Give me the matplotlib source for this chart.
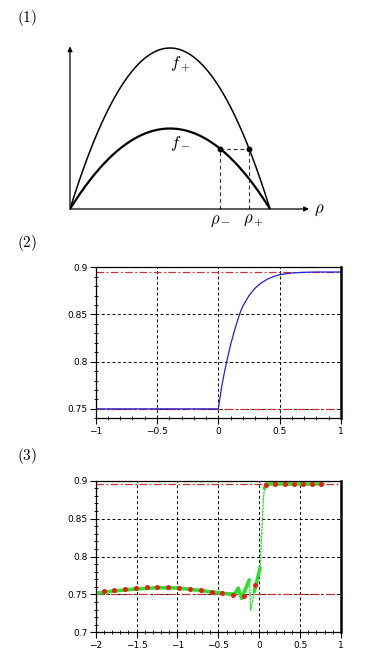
import numpy as np
import matplotlib
matplotlib.use("Agg")
import matplotlib.pyplot as plt
from matplotlib.collections import LineCollection
from matplotlib.ticker import MultipleLocator

plt.rcParams['mathtext.fontset'] = 'cm'
plt.rcParams['font.family'] = 'DejaVu Sans'

# ---- panel (1): flux functions sketch ----
rho_max = 1.0
fplus_peak = 1.0
fminus_peak = 0.5
rho_minus = 0.75

# ---- panel (2): exact solution ----
exact_x = [-1.0, 0.0, 0.025, 0.05, 0.075, 0.1, 0.125, 0.15, 0.175, 0.2, 0.25,
           0.3, 0.35, 0.4, 0.45, 0.5, 0.6, 0.7, 0.8, 1.0]
exact_y = [0.75, 0.75, 0.772, 0.789, 0.804, 0.818, 0.830, 0.841, 0.851, 0.859,
           0.870, 0.878, 0.8835, 0.8875, 0.8902, 0.8922, 0.8940, 0.8947, 0.8950, 0.8950]
state_low = 0.75
state_high = 0.895

# ---- panel (3): numerical solution ----
green_x = [-2.0, -1.9, -1.75, -1.5, -1.25, -1.0, -0.8, -0.6, -0.45, -0.36, -0.3,
           -0.256, -0.215, -0.121, -0.104, -0.06, 0.01, 0.03, 0.05, 0.065, 0.08,
           0.3, 0.55, 0.78]
green_y = [0.7515, 0.7528, 0.7548, 0.7572, 0.7588, 0.7584, 0.7562, 0.7535,
           0.7515, 0.7505, 0.7505, 0.758, 0.745, 0.769, 0.729, 0.7536, 0.785,
           0.83, 0.875, 0.89, 0.895, 0.895, 0.895, 0.895]
dots_x = [-1.902, -1.772, -1.641, -1.511, -1.376, -1.246, -1.111, -0.977, -0.846,
          -0.712, -0.582, -0.451, -0.317, -0.190, -0.052, 0.087, 0.197, 0.311,
          0.421, 0.531, 0.641, 0.755]
dots_y = [0.7540, 0.7558, 0.7571, 0.7585, 0.7593, 0.7598, 0.7598, 0.7585, 0.7567,
          0.7554, 0.7536, 0.7514, 0.7488, 0.7485, 0.7620, 0.8947, 0.8952, 0.8952,
          0.8952, 0.8952, 0.8952, 0.8952]

W, H = 375, 665
fig = plt.figure(figsize=(W / 100, H / 100), dpi=100)


def px_axes(left, top, right, bottom):
    return fig.add_axes([left / W, 1 - bottom / H, (right - left) / W, (bottom - top) / H])


def panel_label(txt, y):
    fig.text(17 / W, 1 - y / H, r'$\mathrm{(%s)}$' % txt, fontsize=11, va='center', ha='left')


# ---------------- panel 1 ----------------
ax1 = px_axes(70, 30, 330, 230)
ax1.set_xlim(0, 1.3)
ax1.set_ylim(-21 / 161, 179 / 161)
ax1.axis('off')

rho = np.linspace(0, rho_max, 300)
f_plus = 4 * fplus_peak * rho * (1 - rho / rho_max) / rho_max
f_minus = 4 * fminus_peak * rho * (1 - rho / rho_max) / rho_max
ax1.plot(rho, f_plus, color='k', lw=1.1, solid_capstyle='butt')
ax1.plot(rho, f_minus, color='k', lw=1.6, solid_capstyle='butt')

flux_star = 4 * fminus_peak * rho_minus * (1 - rho_minus / rho_max) / rho_max
q = flux_star / (4 * fplus_peak)
rho_plus = rho_max * (1 + np.sqrt(1 - 4 * q)) / 2

arrow = dict(arrowstyle='-|>', lw=0.9, color='k', mutation_scale=7, shrinkA=0, shrinkB=0)
ax1.annotate('', xy=(0, 1.01), xytext=(0, 0), arrowprops=arrow)
ax1.annotate('', xy=(1.195, 0), xytext=(0, 0), arrowprops=arrow)
dash = dict(color='#333333', lw=0.8, ls=(0, (3.5, 2.5)))
ax1.plot([rho_minus, rho_minus], [0, flux_star], **dash)
ax1.plot([rho_plus, rho_plus], [0, flux_star], **dash)
ax1.plot([rho_minus, rho_plus], [flux_star, flux_star], **dash)
ax1.plot([rho_minus, rho_plus], [flux_star, flux_star], 'o', color='k', ms=3.2)

ax1.text(0.5, fplus_peak - 0.035, r'$f_+$', fontsize=12, ha='left', va='top')
ax1.text(0.5, fminus_peak - 0.035, r'$f_-$', fontsize=12, ha='left', va='top')
ax1.text(rho_minus, -0.01, r'$\rho_-$', fontsize=12, ha='center', va='top')
ax1.text(rho_plus + 0.02, -0.01, r'$\rho_+$', fontsize=12, ha='center', va='top')
ax1.text(1.22, 0.0, r'$\rho$', fontsize=12, ha='left', va='center')
panel_label('1', 18)


def style_axes(ax, xlim, ylim, xmaj, ymaj):
    ax.set_xlim(*xlim)
    ax.set_ylim(*ylim)
    ax.xaxis.set_major_locator(MultipleLocator(xmaj))
    ax.xaxis.set_minor_locator(MultipleLocator(0.1))
    ax.yaxis.set_major_locator(MultipleLocator(ymaj))
    ax.yaxis.set_minor_locator(MultipleLocator(0.01))
    ax.tick_params(which='major', direction='out', length=4, width=0.8, labelsize=6.5, pad=2)
    ax.tick_params(which='minor', direction='inout', length=3, width=0.6)
    ax.grid(True, which='major', color='k', ls=(0, (3, 2.5)), lw=0.7)
    for s in ax.spines.values():
        s.set_linewidth(0.9)
    ax.spines['right'].set_linewidth(1.8)
    ax.xaxis.set_major_formatter(plt.FuncFormatter(lambda v, p: f'{v:g}'.replace('-', '\u2212')))
    ax.yaxis.set_major_formatter(plt.FuncFormatter(lambda v, p: f'{v:g}'))


# ---------------- panel 2 ----------------
ax2 = px_axes(95.7, 267.3, 341, 418.3)
style_axes(ax2, (-1, 1), (0.74, 0.9), 0.5, 0.05)
ax2.set_yticks([0.75, 0.8, 0.85, 0.9])
for lvl in (state_low, state_high):
    ax2.axhline(lvl, color='#c83232', lw=0.9, ls=(0, (6, 2, 1.5, 2)))
ax2.plot(exact_x, exact_y, color='#2020d8', lw=0.9)
panel_label('2', 243)

# ---------------- panel 3 ----------------
ax3 = px_axes(95.7, 480.7, 341, 632.3)
style_axes(ax3, (-2, 1), (0.7, 0.9), 0.5, 0.05)
for lvl in (state_low, state_high):
    ax3.axhline(lvl, color='#c83232', lw=0.9, ls=(0, (6, 2, 1.5, 2)))

gx = np.array(green_x)
gy = np.array(green_y)
pts = np.column_stack([gx, gy]).reshape(-1, 1, 2)
segs = np.concatenate([pts[:-1], pts[1:]], axis=1)
slope = np.abs(np.diff(gy) / np.diff(gx))
steep = slope > 0.5
lc = LineCollection(segs, colors='#2de02d',
                    linewidths=np.where(steep, 1.0, 2.6),
                    linestyles=[(0, (1, 1.2)) if s else 'solid' for s in steep],
                    capstyle='round', joinstyle='round')
ax3.add_collection(lc)
ax3.plot(dots_x, dots_y, 'o', color='#ee1a1a', ms=3.6, mec='none', zorder=4)
panel_label('3', 456)

fig.savefig('out.png', dpi=100)
